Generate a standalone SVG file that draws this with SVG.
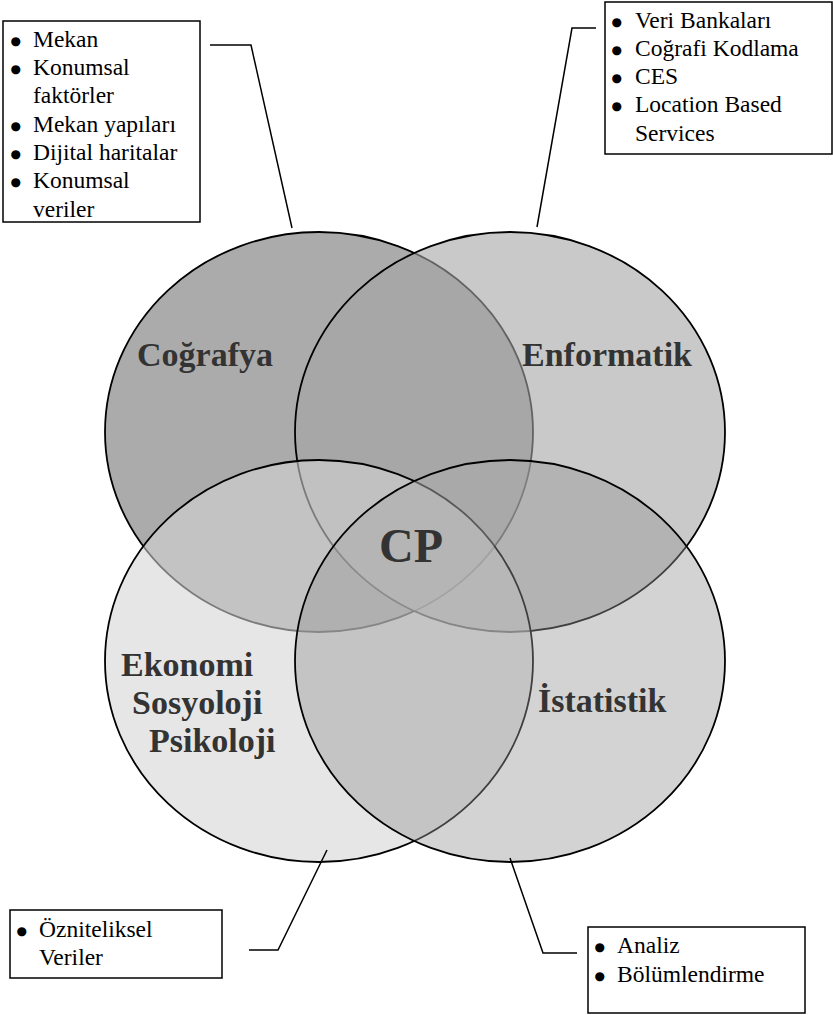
<svg xmlns="http://www.w3.org/2000/svg" width="833" height="1015" viewBox="0 0 833 1015">
<style>
.c{stroke:#000;stroke-width:1.8}
.lbl{font-family:"Liberation Serif",serif;font-weight:bold;font-size:34px;fill:#333}
.cp{font-family:"Liberation Serif",serif;font-weight:bold;font-size:48px;fill:#333}
.box{fill:#fff;stroke:#000;stroke-width:1.5}
.t{font-family:"Liberation Serif",serif;font-size:23.5px;fill:#000}
.b{font-family:"DejaVu Sans",sans-serif;font-size:12px;fill:#000}
.con{fill:none;stroke:#000;stroke-width:1.5}
</style>
<defs>
<clipPath id="cogC"><ellipse cx="319" cy="432" rx="214" ry="200"/></clipPath>
<clipPath id="enfC"><ellipse cx="510" cy="432" rx="215" ry="200"/></clipPath>
<mask id="notCE" maskUnits="userSpaceOnUse" x="0" y="0" width="833" height="1015">
<rect width="833" height="1015" fill="#fff"/>
<g clip-path="url(#cogC)"><ellipse cx="510" cy="432" rx="215" ry="200" fill="#000"/></g>
</mask>
</defs>
<rect width="833" height="1015" fill="#fff"/>
<g id="cografya"><ellipse class="c" cx="319" cy="432" rx="214" ry="200" fill="#ababab"/></g>
<g id="enformatik"><ellipse class="c" cx="510" cy="432" rx="215" ry="200" fill="#a5a5a5" fill-opacity="0.6"/></g>
<g id="ekonomi"><ellipse class="c" cx="319" cy="661" rx="214" ry="201" fill="#d4d4d4" fill-opacity="0.58"/></g>
<g id="istatistik">
<ellipse cx="510" cy="661" rx="215" ry="201" fill="#969696" fill-opacity="0.42" mask="url(#notCE)"/>
<g clip-path="url(#cogC)"><g clip-path="url(#enfC)"><ellipse cx="510" cy="661" rx="215" ry="201" fill="#aaaaaa" fill-opacity="0.52"/></g></g>
<ellipse class="c" cx="510" cy="661" rx="215" ry="201" fill="none"/>
</g>
<g id="labels">
<text class="lbl" x="137" y="366">Coğrafya</text>
<text class="lbl" x="522" y="366">Enformatik</text>
<text class="cp" x="379" y="562">CP</text>
<text class="lbl" x="121" y="676">Ekonomi</text>
<text class="lbl" x="132" y="714">Sosyoloji</text>
<text class="lbl" x="149" y="752">Psikoloji</text>
<text class="lbl" x="538" y="712">İstatistik</text>
</g>
<g id="connectors">
<path class="con" d="M210,45 H251 L292,228"/>
<path class="con" d="M596,28 H572 L537,227"/>
<path class="con" d="M249,950 H278 L327,850"/>
<path class="con" d="M577,953 H543 L510,858"/>
</g>
<g id="box-cografya">
<rect class="box" x="3" y="21" width="197" height="201"/>
<text class="b"><tspan x="10.4" y="45">●</tspan><tspan x="10.4" y="73">●</tspan><tspan x="10.4" y="130">●</tspan><tspan x="10.4" y="158">●</tspan><tspan x="10.4" y="186">●</tspan></text>
<text class="t"><tspan x="33" y="47">Mekan</tspan>
<tspan x="33" y="75">Konumsal</tspan>
<tspan x="33" y="103">faktörler</tspan>
<tspan x="33" y="132">Mekan yapıları</tspan>
<tspan x="33" y="160">Dijital haritalar</tspan>
<tspan x="33" y="188">Konumsal</tspan>
<tspan x="33" y="217">veriler</tspan></text>
</g>
<g id="box-enformatik">
<rect class="box" x="605" y="2" width="227" height="152"/>
<text class="b"><tspan x="611.4" y="26">●</tspan><tspan x="611.4" y="54">●</tspan><tspan x="611.4" y="82">●</tspan><tspan x="611.4" y="110">●</tspan></text>
<text class="t"><tspan x="635" y="28">Veri Bankaları</tspan>
<tspan x="635" y="56">Coğrafi Kodlama</tspan>
<tspan x="635" y="84">CES</tspan>
<tspan x="635" y="112">Location Based</tspan>
<tspan x="635" y="141">Services</tspan></text>
</g>
<g id="box-ekonomi">
<rect class="box" x="10" y="910" width="212" height="68"/>
<text class="b"><tspan x="16.4" y="935">●</tspan></text>
<text class="t"><tspan x="39" y="937">Özniteliksel</tspan>
<tspan x="39" y="965">Veriler</tspan></text>
</g>
<g id="box-istatistik">
<rect class="box" x="588" y="927" width="217" height="86"/>
<text class="b"><tspan x="594.4" y="951">●</tspan><tspan x="594.4" y="980">●</tspan></text>
<text class="t"><tspan x="617" y="953">Analiz</tspan>
<tspan x="617" y="982">Bölümlendirme</tspan></text>
</g>
</svg>
